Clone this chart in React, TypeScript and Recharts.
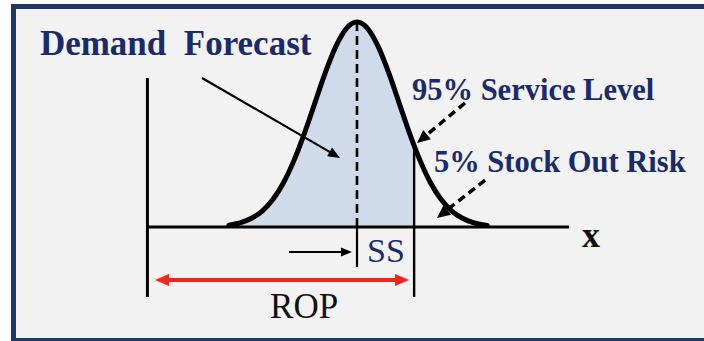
import React from 'react';
import {
  ComposedChart,
  Area,
  Line,
  XAxis,
  YAxis,
  ReferenceLine,
  ReferenceDot,
} from 'recharts';

// Demand in standard-deviation units (mean = 0)
const zValues = [
  -3.05, -2.75, -2.5, -2.25, -2, -1.75, -1.5, -1.25, -1, -0.75, -0.5, -0.25, 0,
  0.25, 0.5, 0.75, 1, 1.25, 1.36, 1.5, 1.75, 2, 2.25, 2.5, 2.75, 3.1,
];
// Curve height as % of the peak
const densityPct = [
  0.9, 2.3, 4.4, 7.9, 13.5, 21.6, 32.5, 45.8, 60.7, 75.5, 88.2, 96.9, 100,
  96.9, 88.2, 75.5, 60.7, 45.8, 39.7, 32.5, 21.6, 13.5, 7.9, 4.4, 2.3, 0.8,
];
const meanZ = 0;
const ropZ = 1.36;
const ropHeight = 39.7;

const labels = {
  title: 'Demand  Forecast',
  service: '95% Service Level',
  risk: '5% Stock Out Risk',
  axis: 'x',
  ss: 'SS',
  rop: 'ROP',
};

const tableData = zValues.map((z, i) => ({
  z,
  curve: densityPct[i],
  shaded: z <= ropZ ? densityPct[i] : null,
}));

const SERIF = '"Liberation Serif", "Times New Roman", serif';
const NAVY = '#1b2a6b';

const arrowHead = (x1: number, y1: number, x2: number, y2: number, len: number, half: number) => {
  const dx = x2 - x1;
  const dy = y2 - y1;
  const d = Math.sqrt(dx * dx + dy * dy) || 1;
  const ux = dx / d;
  const uy = dy / d;
  const bx = x2 - ux * len;
  const by = y2 - uy * len;
  return `${x2},${y2} ${bx - uy * half},${by + ux * half} ${bx + uy * half},${by - ux * half}`;
};

const makeArrow =
  (color: string, width: number, dash: string | undefined, len: number, half: number, both = false) =>
  (p: any) => {
    const { x1, y1, x2, y2 } = p;
    const dx = x2 - x1;
    const dy = y2 - y1;
    const d = Math.sqrt(dx * dx + dy * dy) || 1;
    const sx = both ? x1 + (dx / d) * (len - 2) : x1;
    const sy = both ? y1 + (dy / d) * (len - 2) : y1;
    const ex = x2 - (dx / d) * (len - 2);
    const ey = y2 - (dy / d) * (len - 2);
    return (
      <g>
        <line x1={sx} y1={sy} x2={ex} y2={ey} stroke={color} strokeWidth={width} strokeDasharray={dash} />
        <polygon points={arrowHead(x1, y1, x2, y2, len, half)} fill={color} />
        {both ? <polygon points={arrowHead(x2, y2, x1, y1, len, half)} fill={color} /> : null}
      </g>
    );
  };

const makeText =
  (text: string, size: number, color: string, weight: string | number) =>
  (p: any) => (
    <text
      x={p.cx}
      y={p.cy}
      fontFamily={SERIF}
      fontSize={size}
      fontWeight={weight}
      fill={color}
      textAnchor="start"
      style={{ whiteSpace: 'pre' }}
    >
      {text}
    </text>
  );

export default function App() {
  return (
    <div style={{ position: 'absolute', left: 0, top: 0, width: 704, height: 341, background: '#ffffff' }}>
      <div
        style={{
          position: 'absolute',
          left: 11,
          top: 4,
          width: 693,
          height: 337,
          boxSizing: 'border-box',
          background: '#f2f2f2',
          borderLeft: '5px solid #1d3866',
          borderTop: '5px solid #1d3866',
          borderBottom: '3px solid #1d3866',
        }}
      />
      <div style={{ position: 'absolute', left: 0, top: 0 }}>
        <ComposedChart
          width={704}
          height={341}
          data={tableData}
          margin={{ top: 0, right: 0, bottom: 0, left: 0 }}
        >
          <XAxis type="number" dataKey="z" domain={[-8.5, 8.262]} hide allowDataOverflow />
          <YAxis type="number" domain={[-55.61, 110.73]} hide allowDataOverflow />
          <Area
            dataKey="shaded"
            type="monotone"
            fill="#cfdbea"
            fillOpacity={1}
            stroke="none"
            baseValue={0}
            dot={false}
            activeDot={false}
            isAnimationActive={false}
            connectNulls={false}
          />
          {/* mean dashed line */}
          <ReferenceLine
            segment={[{ x: meanZ, y: 0 }, { x: meanZ, y: 100 }]}
            stroke="#000"
            strokeWidth={2.6}
            strokeDasharray="9 5"
          />
          {/* mean solid line below axis */}
          <ReferenceLine
            segment={[{ x: meanZ, y: 0 }, { x: meanZ, y: -19.5 }]}
            stroke="#000"
            strokeWidth={2.2}
          />
          {/* ROP line */}
          <ReferenceLine
            segment={[{ x: ropZ, y: ropHeight }, { x: ropZ, y: -34.1 }]}
            stroke="#000"
            strokeWidth={2.4}
          />
          {/* vertical axis */}
          <ReferenceLine segment={[{ x: -4.99, y: 72.7 }, { x: -4.99, y: -34.1 }]} stroke="#000" strokeWidth={3} />
          {/* horizontal axis */}
          <ReferenceLine segment={[{ x: -4.99, y: 0 }, { x: 5.05, y: 0 }]} stroke="#000" strokeWidth={3} />
          <Line
            dataKey="curve"
            type="monotone"
            stroke="#000"
            strokeWidth={5}
            dot={false}
            activeDot={false}
            strokeLinecap="round"
            isAnimationActive={false}
          />
          {/* arrows */}
          <ReferenceLine
            segment={[{ x: -3.69, y: 72.7 }, { x: -0.405, y: 33.7 }]}
            shape={makeArrow('#000', 2.2, undefined, 12, 5)}
          />
          <ReferenceLine
            segment={[{ x: 2.571, y: 60.5 }, { x: 1.43, y: 41 }]}
            shape={makeArrow('#000', 3.5, '8 5', 13, 6)}
          />
          <ReferenceLine
            segment={[{ x: 3.05, y: 22.9 }, { x: 1.905, y: 4.4 }]}
            shape={makeArrow('#000', 3.5, '8 5', 13, 6)}
          />
          <ReferenceLine
            segment={[{ x: -1.62, y: -12.2 }, { x: -0.12, y: -12.2 }]}
            shape={makeArrow('#000', 2.2, undefined, 11, 4.5)}
          />
          <ReferenceLine
            segment={[{ x: -4.81, y: -25.9 }, { x: 1.24, y: -25.9 }]}
            shape={makeArrow('#f0281c', 4, undefined, 14, 6, true)}
          />
          {/* texts */}
          <ReferenceDot x={-7.55} y={83.9} r={0} shape={makeText(labels.title, 35, NAVY, 'bold')} />
          <ReferenceDot x={1.31} y={62} r={0} shape={makeText(labels.service, 30.5, NAVY, 'bold')} />
          <ReferenceDot x={1.833} y={26.8} r={0} shape={makeText(labels.risk, 30.5, NAVY, 'bold')} />
          <ReferenceDot x={5.36} y={-9.76} r={0} shape={makeText(labels.axis, 36, '#111', 'bold')} />
          <ReferenceDot x={0.238} y={-17.1} r={0} shape={makeText(labels.ss, 34, NAVY, 'normal')} />
          <ReferenceDot x={-2.07} y={-44.4} r={0} shape={makeText(labels.rop, 35, '#111', 'normal')} />
        </ComposedChart>
      </div>
    </div>
  );
}
